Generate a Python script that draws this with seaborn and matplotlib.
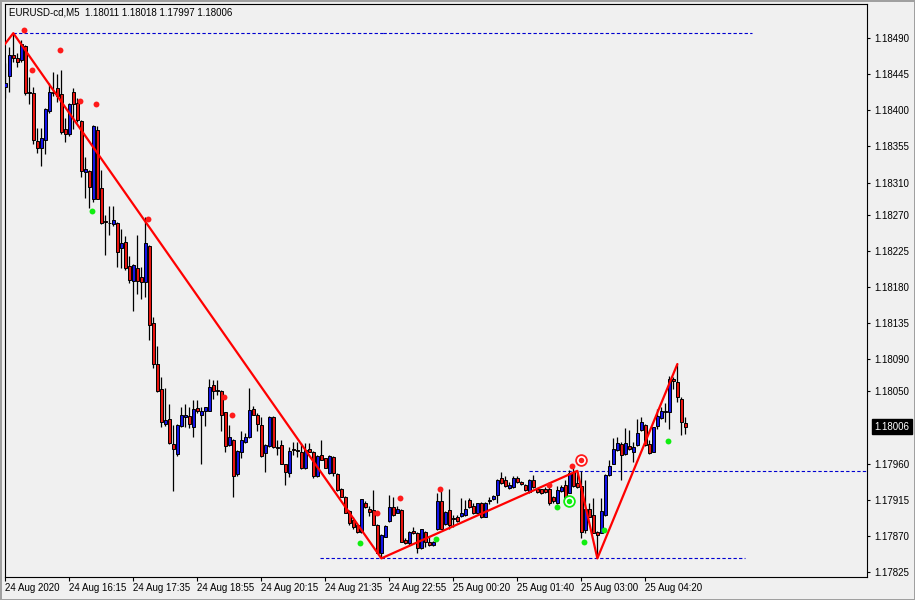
import numpy as np
import matplotlib
matplotlib.use("Agg")
import matplotlib.pyplot as plt
import seaborn as sns

# EURUSD M5 candles, one per bar, oldest first
opens = [1.18429, 1.18443, 1.18469, 1.18465, 1.18463, 1.18480, 1.18422, 1.18422, 1.18362, 1.18353,
         1.18363, 1.18399, 1.18423, 1.18428, 1.18420, 1.18377, 1.18370, 1.18423, 1.18409, 1.18387,
         1.18323, 1.18324, 1.18290, 1.18376, 1.18303, 1.18261, 1.18259, 1.18258, 1.18260, 1.18229,
         1.18236, 1.18206, 1.18188, 1.18204, 1.18192, 1.18186, 1.18231, 1.18135, 1.18084, 1.18053,
         1.18009, 1.18016, 1.17985, 1.17972, 1.18007, 1.18018, 1.18019, 1.18006, 1.18029, 1.18020,
         1.18026, 1.18026, 1.18058, 1.18052, 1.18051, 1.18024, 1.17983, 1.17990, 1.17947, 1.17974,
         1.17987, 1.17993, 1.18028, 1.18021, 1.18008, 1.17973, 1.17982, 1.18018, 1.17981, 1.17983,
         1.17959, 1.17948, 1.17977, 1.17976, 1.17975, 1.17954, 1.17978, 1.17975, 1.17944, 1.17971,
         1.17967, 1.17948, 1.17968, 1.17947, 1.17929, 1.17919, 1.17901, 1.17890, 1.17884, 1.17875,
         1.17911, 1.17904, 1.17902, 1.17884, 1.17849, 1.17869, 1.17888, 1.17906, 1.17899, 1.17902,
         1.17865, 1.17861, 1.17876, 1.17874, 1.17855, 1.17875, 1.17862, 1.17859, 1.17878, 1.17913,
         1.17885, 1.17902, 1.17891, 1.17893, 1.17895, 1.17896, 1.17915, 1.17907, 1.17899, 1.17911,
         1.17894, 1.17914, 1.17916, 1.17921, 1.17942, 1.17939, 1.17930, 1.17931, 1.17942, 1.17937,
         1.17933, 1.17925, 1.17940, 1.17929, 1.17928, 1.17929, 1.17928, 1.17918, 1.17911, 1.17926,
         1.17933, 1.17924, 1.17950, 1.17936, 1.17932, 1.17877, 1.17904, 1.17896, 1.17875, 1.17874,
         1.17896, 1.17946, 1.17960, 1.17977, 1.17985, 1.17972, 1.17982, 1.17975, 1.17983, 1.18002,
         1.18008, 1.17984, 1.17975, 1.18007, 1.18017, 1.18024, 1.18024, 1.18065, 1.18062, 1.18041,
         1.18011]
highs = [1.18459, 1.18479, 1.18496, 1.18471, 1.18487, 1.18481, 1.18442, 1.18429, 1.18378, 1.18378,
         1.18403, 1.18434, 1.18448, 1.18445, 1.18450, 1.18390, 1.18409, 1.18428, 1.18415, 1.18388,
         1.18342, 1.18326, 1.18382, 1.18380, 1.18326, 1.18270, 1.18281, 1.18281, 1.18261, 1.18252,
         1.18243, 1.18218, 1.18208, 1.18245, 1.18205, 1.18267, 1.18232, 1.18142, 1.18106, 1.18068,
         1.18054, 1.18034, 1.18008, 1.18009, 1.18030, 1.18034, 1.18030, 1.18039, 1.18039, 1.18031,
         1.18031, 1.18065, 1.18064, 1.18064, 1.18052, 1.18024, 1.18008, 1.17991, 1.17977, 1.18000,
         1.17998, 1.18054, 1.18032, 1.18023, 1.18018, 1.17984, 1.18019, 1.18019, 1.17989, 1.17989,
         1.17960, 1.17981, 1.17987, 1.17987, 1.17986, 1.17986, 1.17986, 1.17976, 1.17971, 1.17990,
         1.17967, 1.17971, 1.17969, 1.17948, 1.17930, 1.17920, 1.17902, 1.17893, 1.17885, 1.17916,
         1.17914, 1.17907, 1.17927, 1.17885, 1.17872, 1.17883, 1.17921, 1.17919, 1.17907, 1.17903,
         1.17867, 1.17876, 1.17881, 1.17875, 1.17879, 1.17876, 1.17870, 1.17864, 1.17924, 1.17929,
         1.17901, 1.17929, 1.17896, 1.17896, 1.17917, 1.17915, 1.17917, 1.17911, 1.17911, 1.17912,
         1.17912, 1.17919, 1.17921, 1.17941, 1.17950, 1.17944, 1.17937, 1.17944, 1.17944, 1.17938,
         1.17934, 1.17941, 1.17946, 1.17930, 1.17929, 1.17931, 1.17933, 1.17920, 1.17932, 1.17933,
         1.17940, 1.17952, 1.17956, 1.17951, 1.17951, 1.17940, 1.17911, 1.17917, 1.17876, 1.17917,
         1.17947, 1.17965, 1.17992, 1.17993, 1.17987, 1.18004, 1.18002, 1.17987, 1.18016, 1.18018,
         1.18009, 1.17990, 1.18006, 1.18028, 1.18030, 1.18035, 1.18069, 1.18068, 1.18084, 1.18043,
         1.18018]
lows = [1.18415, 1.18423, 1.18460, 1.18454, 1.18460, 1.18419, 1.18408, 1.18358, 1.18347, 1.18330,
        1.18345, 1.18397, 1.18418, 1.18410, 1.18370, 1.18360, 1.18368, 1.18377, 1.18385, 1.18317,
        1.18291, 1.18278, 1.18286, 1.18289, 1.18258, 1.18220, 1.18245, 1.18256, 1.18205, 1.18204,
        1.18201, 1.18185, 1.18150, 1.18171, 1.18165, 1.18167, 1.18114, 1.18079, 1.18049, 1.18005,
        1.18007, 1.17984, 1.17926, 1.17969, 1.18006, 1.18006, 1.18004, 1.17993, 1.18023, 1.17959,
        1.18007, 1.18025, 1.18041, 1.18046, 1.18000, 1.17975, 1.17982, 1.17919, 1.17944, 1.17967,
        1.17986, 1.17992, 1.18020, 1.18000, 1.17968, 1.17950, 1.17981, 1.17980, 1.17971, 1.17959,
        1.17933, 1.17943, 1.17971, 1.17968, 1.17953, 1.17953, 1.17974, 1.17942, 1.17943, 1.17964,
        1.17954, 1.17947, 1.17945, 1.17926, 1.17918, 1.17898, 1.17884, 1.17878, 1.17874, 1.17874,
        1.17905, 1.17895, 1.17883, 1.17849, 1.17842, 1.17868, 1.17887, 1.17895, 1.17898, 1.17862,
        1.17860, 1.17859, 1.17872, 1.17849, 1.17854, 1.17856, 1.17857, 1.17857, 1.17877, 1.17878,
        1.17884, 1.17878, 1.17881, 1.17887, 1.17894, 1.17895, 1.17905, 1.17897, 1.17898, 1.17892,
        1.17893, 1.17910, 1.17915, 1.17911, 1.17935, 1.17931, 1.17929, 1.17930, 1.17936, 1.17933,
        1.17926, 1.17924, 1.17930, 1.17923, 1.17922, 1.17924, 1.17909, 1.17911, 1.17910, 1.17925,
        1.17910, 1.17923, 1.17931, 1.17930, 1.17867, 1.17874, 1.17893, 1.17873, 1.17842, 1.17873,
        1.17895, 1.17945, 1.17959, 1.17976, 1.17940, 1.17971, 1.17977, 1.17962, 1.17982, 1.18001,
        1.17982, 1.17972, 1.17974, 1.18003, 1.18016, 1.18012, 1.18003, 1.18053, 1.18037, 1.17996,
        1.17997]
closes = [1.18434, 1.18469, 1.18465, 1.18460, 1.18482, 1.18422, 1.18423, 1.18363, 1.18353, 1.18365,
          1.18402, 1.18423, 1.18421, 1.18418, 1.18373, 1.18370, 1.18408, 1.18408, 1.18388, 1.18324,
          1.18327, 1.18304, 1.18380, 1.18290, 1.18259, 1.18261, 1.18259, 1.18263, 1.18223, 1.18235,
          1.18203, 1.18189, 1.18207, 1.18188, 1.18186, 1.18235, 1.18132, 1.18084, 1.18050, 1.18012,
          1.18014, 1.17986, 1.17978, 1.18008, 1.18021, 1.18020, 1.18009, 1.18028, 1.18025, 1.18025,
          1.18030, 1.18055, 1.18051, 1.18050, 1.18020, 1.17982, 1.17993, 1.17945, 1.17976, 1.17989,
          1.17993, 1.18027, 1.18021, 1.18009, 1.17970, 1.17983, 1.18018, 1.17981, 1.17979, 1.17960,
          1.17949, 1.17976, 1.17977, 1.17976, 1.17955, 1.17977, 1.17975, 1.17945, 1.17970, 1.17965,
          1.17955, 1.17970, 1.17948, 1.17927, 1.17919, 1.17899, 1.17886, 1.17881, 1.17875, 1.17916,
          1.17906, 1.17900, 1.17884, 1.17849, 1.17871, 1.17882, 1.17906, 1.17896, 1.17904, 1.17863,
          1.17861, 1.17875, 1.17873, 1.17855, 1.17878, 1.17862, 1.17859, 1.17863, 1.17913, 1.17879,
          1.17900, 1.17884, 1.17891, 1.17889, 1.17899, 1.17904, 1.17906, 1.17898, 1.17911, 1.17893,
          1.17911, 1.17914, 1.17920, 1.17940, 1.17936, 1.17932, 1.17933, 1.17942, 1.17937, 1.17934,
          1.17927, 1.17940, 1.17931, 1.17925, 1.17924, 1.17925, 1.17911, 1.17913, 1.17927, 1.17931,
          1.17911, 1.17948, 1.17932, 1.17931, 1.17875, 1.17904, 1.17894, 1.17874, 1.17871, 1.17901,
          1.17946, 1.17957, 1.17978, 1.17986, 1.17971, 1.17986, 1.17978, 1.17981, 1.17998, 1.18012,
          1.17983, 1.17973, 1.18005, 1.18019, 1.18025, 1.18024, 1.18065, 1.18063, 1.18043, 1.18012,
          1.18006]

# zigzag vertices (bar index, price)
zz_bars = [-2, 2, 94, 143, 148, 168]
zz_prices = [1.18470, 1.18496, 1.17842, 1.17951, 1.17842, 1.18084]

# fractal dots (bar position, price)
red_x = [4.75, 13.75, 6.75, 18.75, 22.75, 35.75, 54.75, 56.75, 92.85, 98.7, 108.75, 135.85, 141.7]
red_y = [1.18500, 1.18475, 1.18450, 1.18411, 1.18408, 1.18265, 1.18043, 1.18021, 1.17898, 1.17917,
         1.17929, 1.17933, 1.17957]
green_x = [21.75, 88.75, 107.7, 137.85, 144.75, 149.75, 165.75]
green_y = [1.18275, 1.17861, 1.17866, 1.17906, 1.17862, 1.17877, 1.17988]
ring_red = (143.85, 1.17964)
ring_green = (140.9, 1.17914)

# horizontal levels: (price, from bar, to bar)
levels = [(1.18496, 2, 94.4), (1.18496, 94.4, 186.7),
          (1.17842, 78.7, 132), (1.17843, 132, 185),
          (1.17951, 131, 216)]

time_ticks = [0, 16, 32, 48, 64, 80, 96, 112, 128, 144, 160]
time_labels = ["24 Aug 2020", "24 Aug 16:15", "24 Aug 17:35", "24 Aug 18:55", "24 Aug 20:15",
               "24 Aug 21:35", "24 Aug 22:55", "25 Aug 00:20", "25 Aug 01:40", "25 Aug 03:00",
               "25 Aug 04:20"]
price_ticks = [1.18490, 1.18445, 1.18400, 1.18355, 1.18310, 1.18270, 1.18225, 1.18180, 1.18135,
               1.18090, 1.18050, 1.17960, 1.17915, 1.17870, 1.17825]
last_price = 1.18006
title = "EURUSD-cd,M5  1.18011 1.18018 1.17997 1.18006"

sns.set_theme(style="white")
plt.rcParams["font.family"] = ["Liberation Sans", "DejaVu Sans"]

bg = "#f0f0f0"
fig = plt.figure(figsize=(9.15, 6), dpi=100, facecolor=bg)
fig.patch.set_edgecolor("#a0a0a0")
fig.patch.set_linewidth(2)
ax = fig.add_axes([4.7 / 915, 1 - 577 / 600, (867 - 4.7) / 915, (577 - 4) / 600])
ax.set_facecolor(bg)

o = np.array(opens)
c = np.array(closes)
h = np.array(highs)
l = np.array(lows)
x = np.arange(len(o))
bull = c > o
body_col = np.where(bull, "#1414e6", "#e81410")
body_bot = np.minimum(o, c)
body_h = np.maximum(np.abs(c - o), 0.000012)

# levels
for price, x0, x1 in levels:
    ax.hlines(price, x0, x1, colors="#0000d0", linestyles=(0, (3, 2)), linewidth=0.8, zorder=1)

ax.vlines(x, l, h, colors="black", linewidth=0.9, zorder=2)
ax.bar(x, body_h, bottom=body_bot, width=0.72, color=body_col, edgecolor="black",
       linewidth=0.7, zorder=3)

sns.lineplot(x=zz_bars, y=zz_prices, sort=False, estimator=None, color="#ff0000",
             linewidth=1.6, ax=ax, zorder=4)

sns.scatterplot(x=red_x, y=red_y, color="#ff1a1a", s=18, linewidth=0, ax=ax, zorder=5)
sns.scatterplot(x=green_x, y=green_y, color="#10ee10", s=18, linewidth=0, ax=ax, zorder=5)
ax.scatter([ring_red[0]], [ring_red[1]], s=60, facecolor="white", edgecolor="#ff1a1a",
           linewidth=1.3, zorder=6)
ax.scatter([ring_red[0]], [ring_red[1]], s=16, color="#ff1a1a", linewidth=0, zorder=7)
ax.scatter([ring_green[0]], [ring_green[1]], s=60, facecolor="white", edgecolor="#10ee10",
           linewidth=1.3, zorder=6)
ax.scatter([ring_green[0]], [ring_green[1]], s=16, color="#10ee10", linewidth=0, zorder=7)

ax.set_xlim(-0.15, 215.4)
ax.set_ylim(1.178188, 1.185323)

for s in ax.spines.values():
    s.set_visible(True)
    s.set_color("black")
    s.set_linewidth(0.8)

ax.yaxis.tick_right()
ax.set_yticks(price_ticks)
ax.set_yticklabels([f"{p:.5f}" for p in price_ticks])
ax.set_xticks(time_ticks)
ax.set_xticklabels(time_labels)
for lbl in ax.get_xticklabels():
    lbl.set_ha("left")
ax.tick_params(axis="y", which="both", right=True, left=False, direction="out", length=2.5,
               width=0.8, pad=2.5, labelsize=7, colors="black")
ax.tick_params(axis="x", which="both", bottom=True, direction="out", length=3, width=0.8,
               pad=1.5, labelsize=7, colors="black")
ax.set_xlabel("")
ax.set_ylabel("")
ax.grid(False)

# current price marker on the price scale
ax.text(1.0085, last_price, f"{last_price:.5f}", transform=ax.get_yaxis_transform(),
        ha="left", va="center", fontsize=7, color="white",
        bbox=dict(boxstyle="square,pad=0.25", facecolor="black", edgecolor="black"))

fig.text(9.3 / 915, 1 - 12.7 / 600, title, ha="left", va="center", fontsize=7, color="black")

fig.savefig("out.png", dpi=100, facecolor=fig.get_facecolor(), edgecolor=fig.get_edgecolor())
